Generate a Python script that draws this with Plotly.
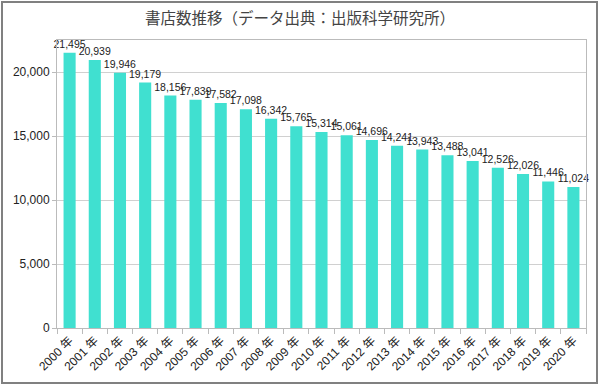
import plotly.graph_objects as go

years = [f"{y} 年" for y in range(2000, 2021)]
stores = [21495, 20939, 19946, 19179, 18156, 17839, 17582, 17098, 16342, 15765,
          15314, 15061, 14696, 14241, 13943, 13488, 13041, 12526, 12026, 11446, 11024]
y_ticks = [0, 5000, 10000, 15000, 20000]
title = "書店数推移（データ出典：出版科学研究所）"

W, H = 600, 386
L, R, T, B = 57, 14, 40, 58
pw, ph = W - L - R, H - T - B

fig = go.Figure(go.Bar(
    x=years, y=stores,
    marker=dict(color="#40E0D0", line=dict(width=0)),
    text=[f"{v:,}" for v in stores],
    textposition="outside",
    constraintext="none",
    textfont=dict(size=10.5, color="#222"),
    cliponaxis=False,
))

fig.update_layout(
    width=W, height=H,
    margin=dict(l=L, r=R, t=T, b=B, autoexpand=False),
    paper_bgcolor="white", plot_bgcolor="white",
    font=dict(family="Liberation Sans, Noto Sans CJK JP, sans-serif", color="#222"),
    title=dict(text=title, x=0.5, xanchor="center", y=1 - 19 / H, yanchor="middle",
               font=dict(size=15.5, color="#444", family="Noto Sans CJK JP, sans-serif")),
    bargap=0.52,
    showlegend=False,
    xaxis=dict(tickangle=-45, ticks="outside", tickson="boundaries", ticklen=5,
               tickcolor="#bbb", showline=True, linecolor="#bbb", mirror=True,
               tickfont=dict(size=12, color="#222"), showgrid=False, automargin=False),
    yaxis=dict(range=[0, 22500], tickvals=y_ticks, tickformat=",", ticks="outside",
               ticklen=4, tickcolor="#bbb", showline=True, linecolor="#bbb", mirror=True,
               gridcolor="#d0d0d0", tickfont=dict(size=12, color="#222"), zeroline=False,
               automargin=False),
    shapes=[dict(type="rect", xref="paper", yref="paper",
                 x0=(2 - L) / pw, x1=(597 - L) / pw,
                 y0=-(383 - T - ph) / ph, y1=1 + (T - 2) / ph,
                 line=dict(color="#808080", width=2))],
)

fig.write_html("out.html", config={"displayModeBar": False},
               post_script="document.body.style.margin='0';document.body.style.overflow='hidden';")
